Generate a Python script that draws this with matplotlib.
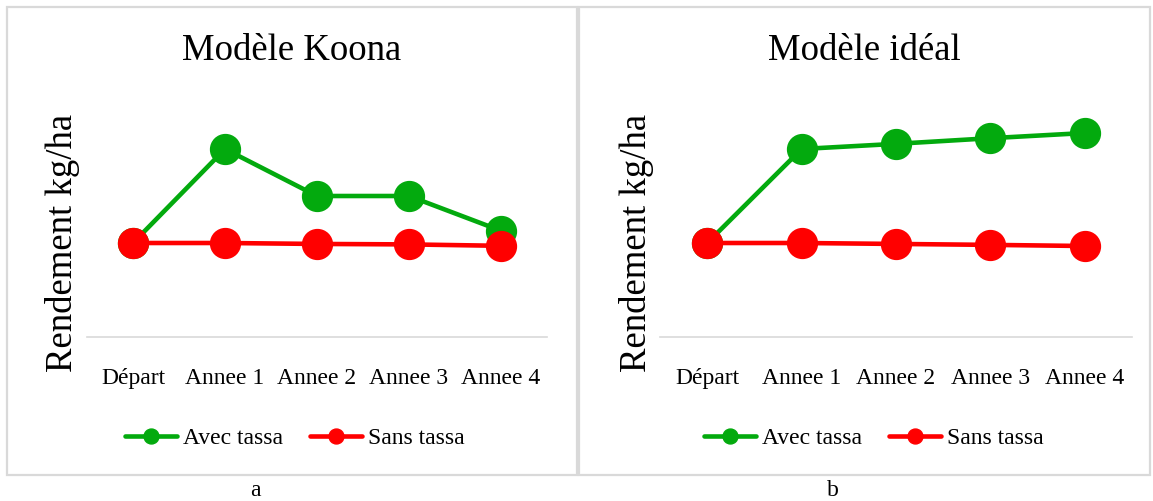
import matplotlib
matplotlib.use("Agg")
import matplotlib.pyplot as plt
from matplotlib.patches import Rectangle

plt.rcParams['font.family'] = ['Liberation Serif', 'DejaVu Serif']

categories = ["Départ", "Annee 1", "Annee 2", "Annee 3", "Annee 4"]
avec_koona = [1000, 2000, 1500, 1500, 1130]
sans_koona = [1000, 1000, 990, 985, 970]
avec_ideal = [1000, 2000, 2055, 2115, 2170]
sans_ideal = [1000, 1000, 990, 980, 968]
titles = ["Modèle Koona", "Modèle idéal"]
panel_labels = ["a", "b"]
series_names = ["Avec tassa", "Sans tassa"]

GREEN = "#03AA0E"
RED = "#FF0000"
GRID = "#D9D9D9"

W, H = 1153, 501
fig = plt.figure(figsize=(W / 100, H / 100), dpi=100)

def fx(px):
    return px / W

def fy(py):
    return 1 - py / H

# panel boxes (pixel coords, top-down)
boxes = [(7, 7, 577, 475), (579, 7, 1150, 475)]
for (x0, y0, x1, y1) in boxes:
    fig.patches.append(Rectangle((fx(x0), fy(y1)), fx(x1 - x0), (y1 - y0) / H,
                                 transform=fig.transFigure, fill=False,
                                 edgecolor=GRID, linewidth=1.6))

axes_px = [(87, 547), (660, 1132)]
ylab_x = [63, 637]
legend_cx = [295, 874]
label_cx = [255, 833]
data = [(avec_koona, sans_koona), (avec_ideal, sans_ideal)]

top_px, base_px = 102, 337
for i in range(2):
    x0, x1 = axes_px[i]
    ax = fig.add_axes([fx(x0), fy(base_px), fx(x1 - x0), (base_px - top_px) / H])
    xs = list(range(len(categories)))
    avec, sans = data[i]
    ax.plot(xs, avec, color=GREEN, lw=3.3, marker='o', ms=21.5, label=series_names[0],
            solid_capstyle='round', zorder=3)
    ax.plot(xs, sans, color=RED, lw=3.3, marker='o', ms=21.5, label=series_names[1],
            solid_capstyle='round', zorder=4)
    ax.set_xlim(-0.5, len(categories) - 0.5)
    ax.set_ylim(0, 2500)
    for s in ['top', 'right', 'left']:
        ax.spines[s].set_visible(False)
    ax.spines['bottom'].set_color(GRID)
    ax.spines['bottom'].set_linewidth(1.2)
    ax.set_yticks([])
    ax.set_xticks(xs)
    ax.set_xticklabels(categories, fontsize=17)
    ax.tick_params(axis='x', length=0, pad=22)
    ax.patch.set_alpha(0)
    for sp in ax.spines.values():
        sp.set_clip_on(False)
    for ln in ax.lines:
        ln.set_clip_on(False)

    cx = (boxes[i][0] + boxes[i][2]) / 2
    fig.text(fx(cx), fy(51), titles[i], ha='center', va='center', fontsize=26.5)
    fig.text(fx(ylab_x[i]), fy(243), "Rendement kg/ha", ha='center', va='center',
             rotation=90, fontsize=26.5)
    ax.legend(loc='center', bbox_to_anchor=(fx(legend_cx[i]), fy(438)),
              bbox_transform=fig.transFigure, ncol=2, frameon=False,
              fontsize=17, markerscale=0.5, handlelength=2.2,
              handletextpad=0.25, columnspacing=1.15)
    fig.text(fx(label_cx[i]), fy(491), panel_labels[i], ha='center', va='center',
             fontsize=17)

fig.savefig("out.png", dpi=100)
